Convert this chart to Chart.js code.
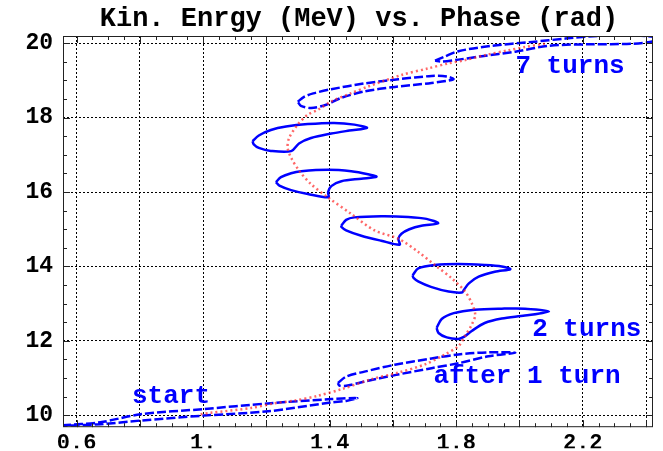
<!DOCTYPE html>
<html>
<head>
<meta charset="utf-8">
<script src="https://cdn.jsdelivr.net/npm/chart.js@4.4.1/dist/chart.umd.min.js"></script>
<style>
  html, body { margin: 0; padding: 0; background: #fff; }
  #wrap { width: 663px; height: 451px; }
</style>
</head>
<body>
<div id="wrap"><canvas id="chart"></canvas></div>
<script>
// [phase (rad), kinetic energy (MeV)], one closed outline per turn
const loopStart = [
  [0.554, 9.733], [0.675, 9.813], [0.802, 10.027], [1.002, 10.168], [1.205, 10.32],
  [1.405, 10.435], [1.487, 10.461], [1.452, 10.387], [1.405, 10.347], [1.205, 10.107],
  [1.002, 9.992], [0.802, 9.859], [0.675, 9.76], [0.554, 9.72]
];
const loopTurn1 = [
  [1.426, 10.867], [1.452, 11.04], [1.510, 11.173], [1.606, 11.36], [1.722, 11.528],
  [1.807, 11.635], [1.902, 11.693], [1.987, 11.68], [1.902, 11.587], [1.807, 11.40],
  [1.722, 11.267], [1.606, 11.08], [1.510, 10.907], [1.452, 10.792], [1.430, 10.80], [1.426, 10.867]
];
const loopTurn2 = [
  [1.738, 12.347], [1.754, 12.587], [1.792, 12.747], [1.859, 12.84], [1.944, 12.867],
  [2.017, 12.867], [2.093, 12.792], [2.017, 12.68], [1.944, 12.60], [1.890, 12.48],
  [1.849, 12.267], [1.824, 12.107], [1.807, 12.053], [1.770, 12.093], [1.744, 12.213], [1.738, 12.347]
];
const loopTurn3 = [
  [1.662, 13.76], [1.680, 13.947], [1.732, 14.04], [1.807, 14.067], [1.890, 14.04],
  [1.944, 14.0], [1.971, 13.928], [1.922, 13.859], [1.871, 13.725], [1.840, 13.547],
  [1.824, 13.368], [1.818, 13.299], [1.776, 13.325], [1.720, 13.453], [1.681, 13.592],
  [1.665, 13.693], [1.662, 13.76]
];
const loopTurn4 = [
  [1.437, 15.101], [1.452, 15.253], [1.478, 15.32], [1.563, 15.352], [1.648, 15.333],
  [1.706, 15.28], [1.743, 15.16], [1.690, 15.093], [1.652, 15.0], [1.627, 14.88],
  [1.617, 14.747], [1.621, 14.587], [1.563, 14.693], [1.500, 14.827], [1.452, 14.973],
  [1.437, 15.067], [1.437, 15.101]
];
const loopTurn5 = [
  [1.230, 16.267], [1.246, 16.40], [1.278, 16.507], [1.310, 16.56], [1.395, 16.60],
  [1.468, 16.56], [1.521, 16.48], [1.548, 16.413], [1.500, 16.36], [1.437, 16.293],
  [1.405, 16.16], [1.395, 16.0], [1.396, 15.859], [1.331, 15.947], [1.278, 16.053],
  [1.241, 16.173], [1.230, 16.267]
];
const loopTurn6 = [
  [1.156, 17.368], [1.176, 17.52], [1.214, 17.667], [1.262, 17.76], [1.331, 17.827],
  [1.414, 17.859], [1.478, 17.813], [1.518, 17.725], [1.462, 17.653], [1.405, 17.573],
  [1.341, 17.453], [1.303, 17.307], [1.278, 17.101], [1.214, 17.107], [1.176, 17.187],
  [1.160, 17.28], [1.156, 17.368]
];
const loopTurn7 = [
  [1.299, 18.427], [1.319, 18.56], [1.348, 18.653], [1.405, 18.765], [1.510, 18.92],
  [1.617, 19.032], [1.722, 19.12], [1.770, 19.107], [1.791, 19.032], [1.722, 18.933],
  [1.606, 18.827], [1.510, 18.707], [1.437, 18.533], [1.389, 18.347], [1.341, 18.259],
  [1.309, 18.32], [1.299, 18.427]
];
const loopTurn8 = [
  [1.733, 19.533], [1.763, 19.64], [1.807, 19.787], [1.913, 19.933], [2.040, 20.035],
  [2.145, 20.125], [2.251, 20.2], [2.357, 20.213], [2.430, 20.16], [2.430, 20.067],
  [2.357, 19.987], [2.220, 19.973], [2.093, 19.933], [1.987, 19.773], [1.881, 19.653],
  [1.807, 19.56], [1.754, 19.507], [1.733, 19.533]
];
// reference particle (red dotted)
const centralOrbit = [
  [0.992, 10.027], [1.024, 10.067], [1.151, 10.195], [1.224, 10.32], [1.287, 10.392],
  [1.363, 10.525], [1.437, 10.701], [1.532, 10.968], [1.617, 11.147], [1.701, 11.368],
  [1.764, 11.635], [1.807, 11.859], [1.828, 12.133], [1.849, 12.435], [1.860, 12.701],
  [1.849, 13.013], [1.828, 13.325], [1.786, 13.68], [1.733, 14.035], [1.680, 14.392],
  [1.617, 14.747], [1.542, 14.968], [1.468, 15.413], [1.394, 15.859], [1.341, 16.213],
  [1.304, 16.568], [1.278, 16.925], [1.267, 17.192], [1.272, 17.459], [1.299, 17.813],
  [1.331, 18.08], [1.363, 18.213], [1.405, 18.435], [1.468, 18.659], [1.521, 18.835],
  [1.627, 19.147], [1.712, 19.325], [1.775, 19.459], [1.828, 19.547], [1.891, 19.68],
  [1.966, 19.813], [2.018, 19.901], [2.082, 19.992]
];

const xMajor = [0.6, 1.0, 1.4, 1.8, 2.2];
const xTickLabels = ['0.6', '1.', '1.4', '1.8', '2.2'];
const yMajor = [10, 12, 14, 16, 18, 20];
const yTickLabels = ['10', '12', '14', '16', '18', '20'];

const titleText = 'Kin. Enrgy (MeV) vs. Phase (rad)';
const turnLabels = [
  { text: 'start', x: 0.775, y: 10.33 },
  { text: 'after 1 turn', x: 1.728, y: 10.86 },
  { text: '2 turns', x: 2.04, y: 12.125 },
  { text: '7 turns', x: 1.987, y: 19.21 }
];

const MONO = '"Liberation Mono", "DejaVu Sans Mono", monospace';
const BLUE = '#0000ff';

function onStep(v, step) {
  const r = v / step;
  return Math.abs(r - Math.round(r)) < 1e-6;
}

function labelFor(v, majors, labels) {
  const i = majors.findIndex(m => Math.abs(m - v) < 1e-6);
  return i >= 0 ? labels[i] : '';
}

const toPoints = arr => arr.map(p => ({ x: p[0], y: p[1] }));

function loopSet(arr, dashed) {
  return {
    data: toPoints(arr),
    showLine: true,
    borderColor: BLUE,
    borderWidth: 2.5,
    borderDash: dashed ? [9, 3] : [],
    pointRadius: 0,
    tension: 0.3
  };
}

// Mathematica style frame: box with inward ticks on all four sides, title centred on the plot, turn labels
const frameTicks = {
  id: 'frameTicks',
  afterDraw(chart) {
    const { ctx, chartArea: a, scales: { x, y } } = chart;
    ctx.save();
    ctx.strokeStyle = '#222';
    ctx.lineWidth = 1;
    ctx.beginPath();
    x.ticks.forEach(t => {
      const px = Math.round(x.getPixelForValue(t.value)) + 0.5;
      const len = onStep(t.value, 0.2) ? 7 : 4;
      ctx.moveTo(px, a.bottom); ctx.lineTo(px, a.bottom - len);
      ctx.moveTo(px, a.top); ctx.lineTo(px, a.top + len);
    });
    y.ticks.forEach(t => {
      const py = Math.round(y.getPixelForValue(t.value)) + 0.5;
      const len = onStep(t.value, 2) ? 7 : 4;
      ctx.moveTo(a.left, py); ctx.lineTo(a.left + len, py);
      ctx.moveTo(a.right, py); ctx.lineTo(a.right - len, py);
    });
    ctx.stroke();
    ctx.strokeRect(a.left + 0.5, a.top + 0.5, a.right - a.left - 1, a.bottom - a.top - 1);

    ctx.fillStyle = '#000';
    ctx.font = 'bold 27px ' + MONO;
    ctx.textAlign = 'center';
    ctx.textBaseline = 'alphabetic';
    ctx.fillText(titleText, (a.left + a.right) / 2 + 1, a.top - 10);

    ctx.fillStyle = BLUE;
    ctx.font = 'bold 26px ' + MONO;
    ctx.textAlign = 'left';
    turnLabels.forEach(l => {
      ctx.fillText(l.text, x.getPixelForValue(l.x), y.getPixelForValue(l.y));
    });
    ctx.restore();
  }
};

new Chart(document.getElementById('chart'), {
  type: 'scatter',
  plugins: [frameTicks],
  data: {
    datasets: [
      {
        data: toPoints(centralOrbit),
        showLine: true,
        borderColor: 'rgba(255, 40, 40, 0.7)',
        borderWidth: 2.5,
        borderDash: [2, 3],
        pointRadius: 0,
        tension: 0.3
      },
      loopSet(loopStart, true),
      loopSet(loopTurn1, true),
      loopSet(loopTurn2, false),
      loopSet(loopTurn3, false),
      loopSet(loopTurn4, false),
      loopSet(loopTurn5, false),
      loopSet(loopTurn6, false),
      loopSet(loopTurn7, true),
      loopSet(loopTurn8, true)
    ]
  },
  options: {
    responsive: true,
    maintainAspectRatio: false,
    animation: false,
    layout: { padding: { top: 36, right: 10 } },
    plugins: {
      legend: { display: false },
      tooltip: { enabled: false },
      title: { display: false }
    },
    scales: {
      x: {
        type: 'linear',
        min: 0.557,
        max: 2.422,
        afterFit: s => { s.height = 21; },
        border: { display: false, dash: [2, 2] },
        grid: {
          drawTicks: false,
          color: c => onStep(c.tick.value, 0.2) ? '#000' : 'rgba(0,0,0,0)'
        },
        ticks: {
          stepSize: 0.05,
          includeBounds: false,
          autoSkip: false,
          maxRotation: 0,
          padding: 3,
          color: '#000',
          font: { family: MONO, size: 22, weight: 'bold' },
          callback: v => labelFor(v, xMajor, xTickLabels)
        }
      },
      y: {
        type: 'linear',
        min: 9.68,
        max: 20.195,
        afterFit: s => { s.width = 63; },
        border: { display: false, dash: [2, 2] },
        grid: {
          drawTicks: false,
          color: c => onStep(c.tick.value, 2) ? '#000' : 'rgba(0,0,0,0)'
        },
        ticks: {
          stepSize: 0.5,
          includeBounds: false,
          autoSkip: false,
          padding: 10,
          color: '#000',
          font: { family: MONO, size: 23, weight: 'bold' },
          callback: v => labelFor(v, yMajor, yTickLabels)
        }
      }
    }
  }
});
</script>
</body>
</html>
